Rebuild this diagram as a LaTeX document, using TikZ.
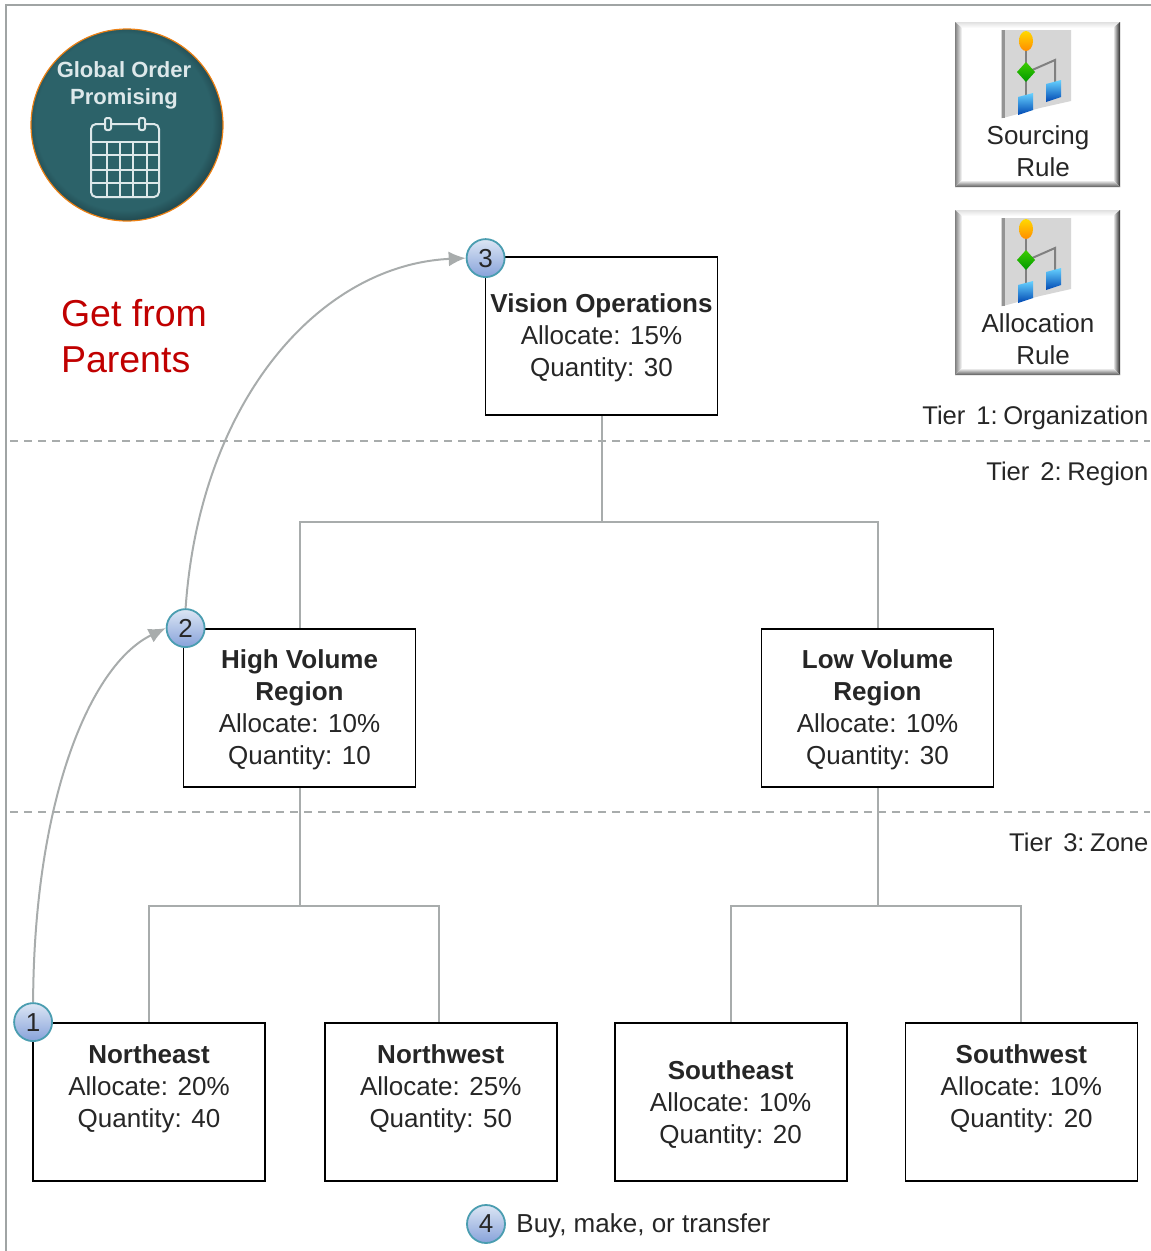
\documentclass[tikz,border=0pt]{standalone}
\usepackage{xcolor}
\usepackage{fontspec}
\setmainfont{Liberation Sans}
\usepackage{tikz}
\usetikzlibrary{positioning, arrows.meta, shapes.geometric, calc}

\definecolor{framegray}{HTML}{A0A4A4}
\definecolor{linkgray}{HTML}{A8ACAC}
\definecolor{textdark}{HTML}{262626}
\definecolor{tealfill}{HTML}{2C6269}
\definecolor{tealdark}{HTML}{1C3E44}
\definecolor{getred}{HTML}{C00000}
\definecolor{badgetop}{HTML}{DCE6F4}
\definecolor{badgelow}{HTML}{87A2DA}
\definecolor{badgeline}{HTML}{4A9DB0}
\definecolor{calline}{HTML}{DDE8EA}
\pgfdeclareradialshading{tealdisc}{\pgfpoint{-1.5bp}{1.5bp}}{color(0bp)=(tealfill); color(23bp)=(tealfill); color(27bp)=(tealdark); color(50bp)=(tealdark)}
\newcommand{\txtsize}{\fontsize{26}{32}\selectfont}
\newcommand{\tierhead}[2]{\rule{0pt}{#1}\textbf{#2}}

\begin{document}
\begin{tikzpicture}[
    x=1pt, y=-1pt,
    >={Latex[width=15pt,length=17pt]},
    every node/.style={font=\txtsize, text=textdark},
    tierbox/.style={rectangle, draw=black, line width=1.8pt, fill=white, align=center, minimum width=232pt, minimum height=158pt, inner sep=0pt},
    badge/.style={circle, draw=badgeline, line width=1.8pt, top color=badgetop, bottom color=badgelow, minimum size=38pt, inner sep=0pt},
    link/.style={draw=linkgray, line width=2pt},
    flow/.style={->, draw=linkgray, line width=2pt},
    tier/.style={draw=linkgray, line width=1.5pt, dash pattern=on 8pt off 6pt},
    tierlabel/.style={anchor=east, font=\fontsize{25.6}{30}\selectfont},
    buttontext/.style={anchor=base},
    calendar/.style={draw=calline, line width=2pt},
    node distance=56pt % most gaps in the bottom row
]
\useasboundingbox (0,0) rectangle (1151,1251);

% Frame and tier lines
\draw[draw=framegray, line width=2pt] (6,1251) -- (6,5) -- (1151,5);
\draw[tier] (10,441) -- (1150,441);
\draw[tier] (10,812) -- (1150,812);

% Global order promising disc
\node[circle, shading=tealdisc, draw=orange!70!brown, line width=1.2pt, minimum size=192pt, inner sep=0pt] (disc) at (127,125) {};
\node[font=\fontsize{22}{27}\selectfont\bfseries, text=calline, align=center] (disctext) at (124,85) {Global Order\\Promising};
\draw[calendar, rounded corners=5pt] (91,124) rectangle (159,197);
\draw[calendar] (91,142) -- (159,142);
\foreach \y in {155,170,183}
    \draw[calendar] (91,\y) -- (159,\y);
\foreach \x in {107,120,133,147}
    \draw[calendar] (\x,142) -- (\x,197);
\foreach \x in {108,142}
    \draw[calendar, fill=tealfill, rounded corners=2pt] (\x-3,118) rectangle (\x+3,130);

% Rule buttons
\foreach \dy/\rulename in {0/Sourcing, 188/Allocation} {
    \begin{scope}[yshift=-\dy pt]
        \fill[white] (955,22) rectangle (1120,187);
        \shade[top color=black!12, bottom color=white] (955,22) -- (1120,22) -- (1113,28) -- (962,28) -- cycle;
        \shade[left color=black!50, right color=white] (955,22) -- (962,28) -- (962,180) -- (955,187) -- cycle;
        \shade[left color=white, right color=black!85] (1120,22) -- (1113,28) -- (1113,180) -- (1120,187) -- cycle;
        \shade[top color=white, bottom color=black!65] (955,187) -- (962,180) -- (1113,180) -- (1120,187) -- cycle;
        \fill[black!16] (1001,30) -- (1071,30) -- (1071,101) -- (1040,108) -- (1003,118) -- (1001,118) -- cycle;
        \draw[black!42, line width=3pt] (1003,30) -- (1003,118);
        \draw[black!50, line width=2pt] (1026,45) -- (1026,100);
        \draw[black!50, line width=2pt] (1030,71) -- (1055,60) -- (1055,85);
        \shade[top color=yellow!70!orange, bottom color=orange!90!yellow] (1026,41) ellipse (7 and 10);
        \shade[top color=green!70!yellow!80!black, bottom color=green!60!black] (1026,62) -- (1035,72) -- (1026,82) -- (1017,72) -- cycle;
        \shade[top color=blue!30!cyan!60!white, bottom color=blue!60!cyan!70!black] (1018,97) -- (1033,93) -- (1033,110) -- (1018,115) -- cycle;
        \shade[top color=blue!30!cyan!60!white, bottom color=blue!60!cyan!70!black] (1046,84) -- (1061,80) -- (1061,97) -- (1046,102) -- cycle;
        \node[buttontext] at (1038,144) {\rulename};
        \node[buttontext] at (1043,176) {Rule};
    \end{scope}
}

% Side text
\node[anchor=west, align=left, text=getred, font=\fontsize{37.5}{46}\selectfont] (getparents) at (57.5,336) {Get from\\Parents};
\node[tierlabel] (tierone) at (1152,418) {Tier\hspace{11pt}1:\hspace{5.5pt}Organization};
\node[tierlabel] (tiertwo) at (1152,474) {Tier\hspace{11pt}2:\hspace{5.5pt}Region};
\node[tierlabel] (tierthree) at (1152,842) {Tier\hspace{11pt}3:\hspace{5.5pt}Zone};

% Nodes
\node[tierbox] (vision) at (601.5,336) {\tierhead{23pt}{Vision Operations}\\Allocate: 15\%\\Quantity: 30};
\node[tierbox] (high) at (299.5,708) {\tierhead{23pt}{High Volume}\\\textbf{Region}\\Allocate: 10\%\\Quantity: 10};
\node[tierbox] (low) at (877.5,708) {\tierhead{23pt}{Low Volume}\\\textbf{Region}\\Allocate: 10\%\\Quantity: 30};
\node[tierbox] (northeast) at (149,1102) {\textbf{Northeast}\\Allocate: 20\%\\Quantity: 40\\~};
\node[tierbox] (northwest) [right=58pt of northeast] {\textbf{Northwest}\\Allocate: 25\%\\Quantity: 50\\~};
\node[tierbox] (southeast) [right=of northwest] {\tierhead{25pt}{Southeast}\\Allocate: 10\%\\Quantity: 20};
\node[tierbox] (southwest) [right=57pt of southeast] {\textbf{Southwest}\\Allocate: 10\%\\Quantity: 20\\~};

% Badges
\node[badge] (one) at ([xshift=1pt] northeast.north west) {1};
\node[badge] (two) at ([xshift=3pt] high.north west) {2};
\node[badge] (three) at ([xshift=1pt,yshift=-2pt] vision.north west) {3};
\node[badge] (four) at (486,1224) {4};
\node (buy) [right=7pt of four, yshift=-2pt] {Buy, make, or transfer};

% Tree connectors
\coordinate (topbar) at (601.5,522);
\coordinate (leftbar) at (299.5,906);
\coordinate (rightbar) at (877.5,906);
\draw[link] (vision.south) -- (topbar) -| (high.north);
\draw[link] (topbar) -| (low.north);
\draw[link] (high.south) -- (leftbar) -| (northeast.north);
\draw[link] (leftbar) -| ([xshift=-2pt] northwest.north);
\draw[link] (low.south) -- (rightbar) -| (southeast.north);
\draw[link] (rightbar) -| (southwest.north);

% Get from parents arrows
\draw[flow] (one.north) .. controls (34,800) and (90,665) .. (two.west);
\draw[flow] (two.north) .. controls (200,400) and (320,265) .. (three.west);

\end{tikzpicture}
\end{document}
